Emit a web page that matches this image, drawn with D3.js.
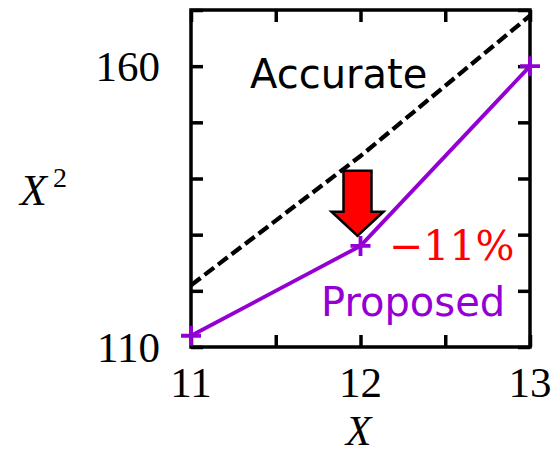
<!DOCTYPE html>
<html>
<head>
<meta charset="utf-8">
<script src="https://cdn.jsdelivr.net/npm/d3@7/dist/d3.min.js"></script>
<style>
  html, body { margin: 0; padding: 0; background: #fff; }
  svg { display: block; }
</style>
</head>
<body>
<svg id="chart" width="556" height="453"></svg>
<script>
// Data
const xValues = [11, 12, 13];
const accurate = [121, 144, 169];      // X^2
const proposed = [112, 128, 160];      // approximation
const xTickLabels = [11, 12, 13];
const yTickLabels = [110, 160];
const xTicks = [11, 11.5, 12, 12.5, 13];
const yTicks = [110, 120, 130, 140, 150, 160, 170];
const errorLabel = "\u221211%";

const svg = d3.select("#chart");
const margin = { left: 191, right: 26, top: 10, bottom: 106 };
const W = 556, H = 453;
const innerW = W - margin.left - margin.right;
const innerH = H - margin.top - margin.bottom;

const x = d3.scaleLinear().domain([11, 13]).range([margin.left, margin.left + innerW]);
const y = d3.scaleLinear().domain([110, 170]).range([margin.top + innerH, margin.top]);

const purple = "#9400D3";
const tickLen = 12;
const lw = 3.5;

// Inward ticks on all four sides
const axB = d3.axisBottom(x).tickValues(xTicks).tickSizeInner(-tickLen).tickSizeOuter(0).tickFormat("");
const axT = d3.axisTop(x).tickValues(xTicks).tickSizeInner(-tickLen).tickSizeOuter(0).tickFormat("");
const axL = d3.axisLeft(y).tickValues(yTicks).tickSizeInner(-tickLen).tickSizeOuter(0).tickFormat("");
const axR = d3.axisRight(y).tickValues(yTicks).tickSizeInner(-tickLen).tickSizeOuter(0).tickFormat("");

function styleAxis(g) {
  g.select(".domain").remove();
  g.selectAll(".tick line").attr("stroke", "#000").attr("stroke-width", lw);
}
svg.append("g").attr("transform", `translate(0,${y(110)})`).call(axB).call(styleAxis);
svg.append("g").attr("transform", `translate(0,${y(170)})`).call(axT).call(styleAxis);
svg.append("g").attr("transform", `translate(${x(11)},0)`).call(axL).call(styleAxis);
svg.append("g").attr("transform", `translate(${x(13)},0)`).call(axR).call(styleAxis);

// Frame
svg.append("rect")
  .attr("x", x(11)).attr("y", y(170))
  .attr("width", x(13) - x(11)).attr("height", y(110) - y(170))
  .attr("fill", "none").attr("stroke", "#000").attr("stroke-width", lw);

// Tick labels
const serif = "'Liberation Serif', 'DejaVu Serif', serif";
svg.append("g").selectAll("text").data(xTickLabels).join("text")
  .attr("x", d => x(d)).attr("y", y(110) + 50)
  .attr("text-anchor", "middle")
  .attr("font-family", serif).attr("font-size", 43)
  .text(d => d);
svg.append("g").selectAll("text").data(yTickLabels).join("text")
  .attr("x", x(11) - 31).attr("y", d => y(d) + 15)
  .attr("text-anchor", "end")
  .attr("font-family", serif).attr("font-size", 43)
  .text(d => d);

// Axis titles
svg.append("text")
  .attr("x", x(12) - 2).attr("y", 445)
  .attr("text-anchor", "middle")
  .attr("font-family", serif).attr("font-size", 42).attr("font-style", "italic")
  .text("X");
const yTitle = svg.append("text")
  .attr("x", 20).attr("y", 205)
  .attr("font-family", serif).attr("font-size", 44);
yTitle.append("tspan").attr("font-style", "italic").text("X");
yTitle.append("tspan").attr("dx", 6).attr("dy", -18).attr("font-size", 28).text("2");

// Accurate (dashed)
const line = d3.line().x(d => x(d[0])).y(d => y(d[1]));
svg.append("path")
  .datum(xValues.map((v, i) => [v, accurate[i]]))
  .attr("d", line)
  .attr("fill", "none").attr("stroke", "#000")
  .attr("stroke-width", 4.3).attr("stroke-dasharray", "12,5");

// Proposed (solid purple with + markers)
const propPts = xValues.map((v, i) => [v, proposed[i]]);
svg.append("path")
  .datum(propPts)
  .attr("d", line)
  .attr("fill", "none").attr("stroke", purple).attr("stroke-width", 3.8);
const m = 10;
svg.append("g").selectAll("path").data(propPts).join("path")
  .attr("d", d => `M${x(d[0]) - m},${y(d[1])}H${x(d[0]) + m}M${x(d[0])},${y(d[1]) - m}V${y(d[1]) + m}`)
  .attr("stroke", purple).attr("stroke-width", 3.8).attr("fill", "none");

// Down arrow marking the reduction at X = 12
const ax = x(12) - 3;
const aTop = y(141.4), aTip = y(129.8), aNeck = y(134.1);
const sw = 14, hw = 26;
svg.append("path")
  .attr("d", `M${ax - sw},${aTop}H${ax + sw}V${aNeck}H${ax + hw}L${ax},${aTip}L${ax - hw},${aNeck}H${ax - sw}Z`)
  .attr("fill", "#ff0000").attr("stroke", "#000").attr("stroke-width", 2.5)
  .attr("stroke-linejoin", "miter");

// Annotations
const sans = "'DejaVu Sans', Verdana, sans-serif";
svg.append("text")
  .attr("x", 250).attr("y", 88)
  .attr("font-family", sans).attr("font-size", 40)
  .text("Accurate");
svg.append("text")
  .attr("x", 321).attr("y", 316)
  .attr("font-family", sans).attr("font-size", 40).attr("fill", purple)
  .text("Proposed");
svg.append("text")
  .attr("x", 389).attr("y", 260)
  .attr("font-family", "'DejaVu Serif', serif").attr("font-size", 41).attr("fill", "#ff0000")
  .text(errorLabel);
</script>
</body>
</html>
